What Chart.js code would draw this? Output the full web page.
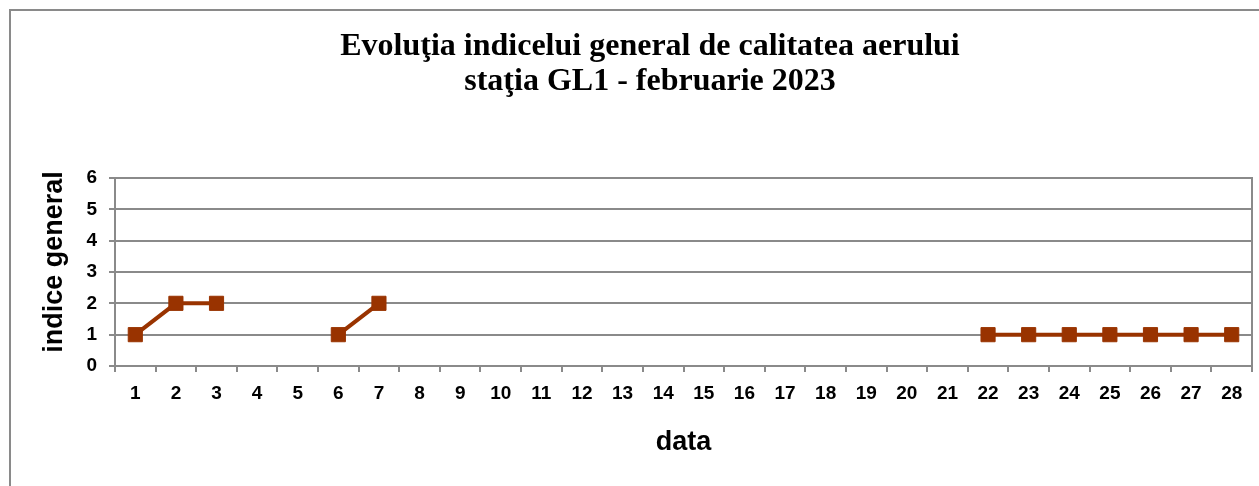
<!DOCTYPE html>
<html>
<head>
<meta charset="utf-8">
<script src="https://cdn.jsdelivr.net/npm/chart.js@4/dist/chart.umd.min.js"></script>
<style>
  html, body { margin: 0; padding: 0; background: #ffffff; }
  #wrap { position: relative; width: 1259px; height: 486px; }
</style>
</head>
<body>
<div id="wrap"><canvas id="c" width="1259" height="486"></canvas></div>
<script>
const titleLines = ["Evoluţia indicelui general de calitatea aerului", "staţia GL1 - februarie 2023"];
const xAxisTitle = "data";
const yAxisTitle = "indice general";
const days = ["1","2","3","4","5","6","7","8","9","10","11","12","13","14","15","16","17","18","19","20","21","22","23","24","25","26","27","28"];
const indiceGeneral = [1, 2, 2, null, null, 1, 2, null, null, null, null, null, null, null, null, null, null, null, null, null, null, 1, 1, 1, 1, 1, 1, 1];
const yTicks = [0, 1, 2, 3, 4, 5, 6];

const GRID = '#8a8a8a';
const LINE = '#993300';

const framePlugin = {
  id: 'frame',
  beforeDraw(chart) {
    const ctx = chart.ctx;
    ctx.save();
    ctx.fillStyle = '#ffffff';
    ctx.fillRect(0, 0, chart.width, chart.height);
    ctx.strokeStyle = GRID;
    ctx.lineWidth = 2;
    ctx.strokeRect(10, 10, 1400, 700);
    ctx.restore();
  },
  afterLayout(chart) {
    // the original title is centred a little right of the canvas centre
    if (chart.titleBlock) {
      chart.titleBlock.left += 24;
      chart.titleBlock.right += 24;
    }
  },
  beforeDatasetsDraw(chart) {
    const a = chart.chartArea;
    const ctx = chart.ctx;
    ctx.save();
    ctx.strokeStyle = GRID;
    ctx.lineWidth = 2;
    ctx.beginPath();
    ctx.moveTo(a.right, a.top - 1);
    ctx.lineTo(a.right, a.bottom);
    ctx.stroke();
    ctx.restore();
  }
};

new Chart(document.getElementById('c'), {
  type: 'line',
  data: {
    labels: days,
    datasets: [{
      label: yAxisTitle,
      data: indiceGeneral,
      borderColor: LINE,
      backgroundColor: LINE,
      borderWidth: 4,
      pointStyle: 'rect',
      pointRadius: 10,
      pointHoverRadius: 10,
      pointBorderWidth: 1,
      pointBorderColor: LINE,
      pointBackgroundColor: LINE,
      spanGaps: false,
      tension: 0
    }]
  },
  options: {
    responsive: false,
    animation: false,
    events: [],
    layout: { autoPadding: false, padding: { left: 0, right: 7, top: 0, bottom: 0 } },
    plugins: {
      legend: { display: false },
      tooltip: { enabled: false },
      title: {
        display: true,
        text: titleLines,
        color: '#000000',
        font: { family: "'Liberation Serif', 'Times New Roman', serif", size: 32, weight: 'bold', lineHeight: 1.07 },
        padding: { top: 30, bottom: 79.5 }
      }
    },
    scales: {
      x: {
        type: 'category',
        offset: true,
        grid: {
          display: true,
          offset: true,
          drawOnChartArea: false,
          drawTicks: true,
          tickLength: 6,
          color: GRID,
          lineWidth: 2
        },
        border: { display: true, color: GRID, width: 2 },
        ticks: {
          color: '#000000',
          font: { family: "'Liberation Sans', Arial, sans-serif", size: 19, weight: 'bold' },
          padding: 10,
          autoSkip: false,
          maxRotation: 0
        },
        title: {
          display: true,
          text: xAxisTitle,
          color: '#000000',
          font: { family: "'Liberation Sans', Arial, sans-serif", size: 27, weight: 'bold', lineHeight: 1.2 },
          padding: { top: 0, bottom: 27 }
        },
        afterFit(scale) {
          scale.height = 120;
          scale.paddingLeft = 0;
          scale.paddingRight = 0;
        }
      },
      y: {
        min: 0,
        max: 6,
        afterBuildTicks(scale) { scale.ticks = yTicks.map(v => ({ value: v })); },
        grid: {
          color: GRID,
          lineWidth: 2,
          drawTicks: true,
          tickLength: 6
        },
        border: { display: true, color: GRID, width: 2 },
        ticks: {
          color: '#000000',
          font: { family: "'Liberation Sans', Arial, sans-serif", size: 19, weight: 'bold' },
          padding: 12,
          stepSize: 1
        },
        title: {
          display: true,
          text: yAxisTitle,
          color: '#000000',
          font: { family: "'Liberation Sans', Arial, sans-serif", size: 27, weight: 'bold', lineHeight: 1.2 },
          padding: { top: 38, bottom: 0 }
        },
        afterFit(scale) {
          scale.width = 115;
          if (!scale._titleShifted) {
            scale._titleShifted = true;
            const orig = scale.drawTitle.bind(scale);
            scale.drawTitle = function () {
              const t = this.top, b = this.bottom;
              this.top -= 10; this.bottom -= 10;
              orig();
              this.top = t; this.bottom = b;
            };
          }
        }
      }
    }
  },
  plugins: [framePlugin]
});
</script>
</body>
</html>
